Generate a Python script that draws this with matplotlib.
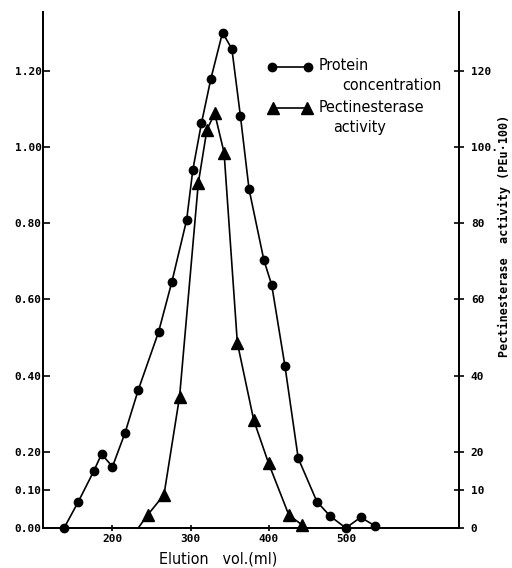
import numpy as np
import matplotlib
matplotlib.use("Agg")
import matplotlib.pyplot as plt

# protein concentration (left axis)
prot_vol = [138, 156, 176, 186, 200, 216, 233, 259, 276, 295, 303, 314, 326, 341,
            353, 364, 375, 394, 404, 421, 438, 462, 479, 499, 518, 536]
prot_conc = [0.00, 0.068, 0.149, 0.194, 0.161, 0.249, 0.362, 0.514, 0.645, 0.808, 0.940,
             1.062, 1.178, 1.300, 1.257, 1.080, 0.889, 0.703, 0.638, 0.425, 0.183,
             0.069, 0.031, 0.000, 0.028, 0.006]

# pectinesterase activity (right axis), first point has no marker
pe_vol = [233, 245, 266, 286, 310, 321, 331, 343, 360, 381, 400, 426, 443]
pe_act = [0.0, 3.4, 8.7, 34.5, 90.5, 104.5, 108.8, 98.5, 48.6, 28.3, 17.0, 3.4, 0.8]

x_ticks = [200, 300, 400, 500]
left_ticks = [0.0, 0.1, 0.2, 0.4, 0.6, 0.8, 1.0, 1.2]
left_labels = ["0.00", "0.10", "0.20", "0.40", "0.60", "0.80", "1.00", "1.20"]
right_ticks = [0, 10, 20, 40, 60, 80, 100, 120]
right_labels = ["0", "10", "20", "40", "60", "80", "100.", "120"]

sans = {"family": "DejaVu Sans", "stretch": "condensed"}
mono = "DejaVu Sans Mono"

fig = plt.figure(figsize=(5.12, 5.68), dpi=100)
ax = fig.add_axes([43 / 512, 40 / 568, 416 / 512, 516 / 568])
ax2 = ax.twinx()

ax.set_xlim(111, 644)
ax.set_ylim(0, 1.354)
ax2.set_ylim(0, 135.4)

ax.plot(prot_vol, prot_conc, color="black", lw=1.2, marker="o", ms=6, clip_on=False, zorder=3)
ax2.plot(pe_vol, pe_act, color="black", lw=1.2, marker="^", ms=9, markevery=list(range(1, len(pe_vol))),
         clip_on=False, zorder=3)

for a in (ax, ax2):
    a.spines["top"].set_visible(False)
    for s in a.spines.values():
        s.set_linewidth(1.3)

ax.set_xticks(x_ticks)
ax.set_xticklabels([str(v) for v in x_ticks], family=mono, fontweight="bold", fontsize=8)
ax.tick_params(axis="x", direction="inout", length=5, width=1.2, pad=2)

ax.set_yticks(left_ticks)
ax.set_yticklabels(left_labels, family=mono, fontweight="bold", fontsize=8)
ax.tick_params(axis="y", direction="in", length=5, width=1.2, pad=1)

ax2.set_yticks(right_ticks)
ax2.set_yticklabels(right_labels, family=mono, fontweight="bold", fontsize=8)
ax2.tick_params(axis="y", direction="inout", length=7, width=1.2, pad=5)

ax.set_xlabel("Elution   vol.(ml)", fontsize=11.5, **sans)
ax.xaxis.set_label_coords(0.42, -0.045)

fig.text(0.985, 0.584, "Pectinesterase  activity (PEu\u00b7100)", rotation=90, family=mono,
         fontweight="bold", fontsize=8.5, ha="center", va="center")

# key drawn by hand, handle level with the first text line
tr = ax.transAxes
ax.plot([0.550, 0.637], [0.893, 0.893], transform=tr, color="black", lw=1.2,
        marker="o", ms=6, clip_on=False)
ax.plot([0.552, 0.635], [0.814, 0.814], transform=tr, color="black", lw=1.2,
        marker="^", ms=8, clip_on=False)
ax.text(0.663, 0.897, "Protein", transform=tr, fontsize=11.5, va="center", **sans)
ax.text(0.719, 0.857, "concentration", transform=tr, fontsize=11.5, va="center", **sans)
ax.text(0.663, 0.814, "Pectinesterase", transform=tr, fontsize=11.5, va="center", **sans)
ax.text(0.697, 0.777, "activity", transform=tr, fontsize=11.5, va="center", **sans)

fig.savefig("out.png", dpi=100)
